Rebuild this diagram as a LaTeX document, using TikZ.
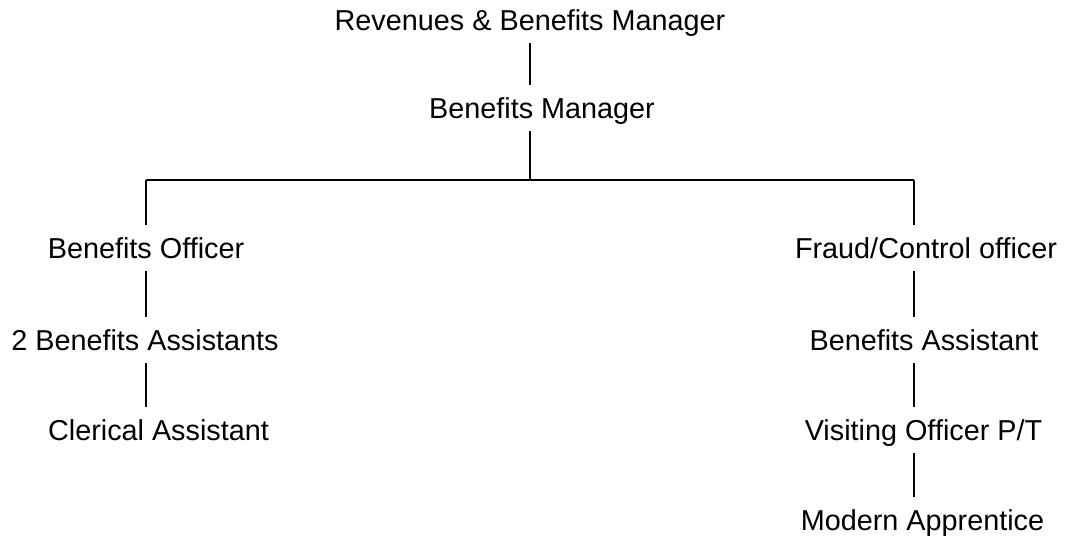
\documentclass[tikz,border=0pt]{standalone}
\usepackage{fontspec}
\setmainfont{Liberation Sans}
\begin{document}
\begin{tikzpicture}[x=1pt, y=-1pt,
  post/.style={anchor=base, inner xsep=2pt, inner ysep=13pt,
    text height=20pt, text depth=0pt,
    font=\fontsize{28.8}{34}\selectfont},
  link/.style={line width=1.3pt}]
  \useasboundingbox (0,0) rectangle (1068,536);

  % posts, placed by their baselines
  \node[post] (rbm) at (530,30)  {Revenues \& Benefits Manager};
  \node[post] (bm)  at (542,118) {Benefits Manager};
  \node[post] (bo)  at (146,258) {Benefits Officer};
  \node[post] (bas) at (145,350) {2 Benefits Assistants};
  \node[post] (ca)  at (158.5,440) {Clerical Assistant};
  \node[post] (fco) at (926,258) {Fraud/Control officer};
  \node[post] (ba)  at (924,350) {Benefits Assistant};
  \node[post] (vo)  at (923.5,440) {Visiting Officer P/T};
  \node[post] (ma)  at (922.5,530) {Modern Apprentice};

  % junction points of the tree
  \coordinate (hub) at (530,180);
  \coordinate (lc)  at (146,180);
  \coordinate (rc)  at (914,180);

  % top spine
  \draw[link] (rbm.south -| hub) -- (bm.north -| hub);
  \draw[link] (bm.south -| hub) -- (hub);
  \draw[link] (lc) -- (rc);

  % left branch
  \draw[link] (lc) -- (bo.north -| lc);
  \draw[link] (bo.south -| lc) -- (bas.north -| lc);
  \draw[link] (bas.south -| lc) -- (ca.north -| lc);

  % right branch
  \draw[link] (rc) -- (fco.north -| rc);
  \draw[link] (fco.south -| rc) -- (ba.north -| rc);
  \draw[link] (ba.south -| rc) -- (vo.north -| rc);
  \draw[link] (vo.south -| rc) -- (ma.north -| rc);
\end{tikzpicture}
\end{document}
